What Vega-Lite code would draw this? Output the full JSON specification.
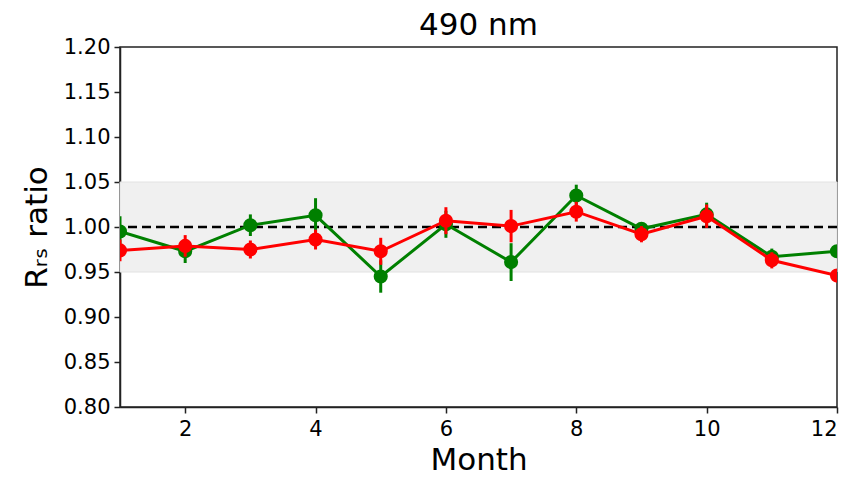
{
  "$schema": "https://vega.github.io/schema/vega-lite/v6.json",
  "autosize": "none",
  "width": 717,
  "height": 360,
  "padding": {"left": 120, "top": 47, "right": 16, "bottom": 71},
  "background": "white",
  "config": {
    "font": "DejaVu Sans",
    "view": {"stroke": "#222222", "strokeWidth": 1.5},
    "axis": {
      "labelFont": "DejaVu Sans",
      "titleFont": "DejaVu Sans",
      "labelFontSize": 21,
      "titleFontSize": 31,
      "titleFontWeight": "normal",
      "labelColor": "black",
      "titleColor": "black",
      "domainColor": "#222222",
      "domainWidth": 1.5,
      "tickColor": "#222222",
      "tickWidth": 1.5,
      "tickSize": 6,
      "grid": false
    },
    "title": {"font": "DejaVu Sans", "fontSize": 31, "fontWeight": "normal", "color": "black", "offset": -6}
  },
  "title": "490 nm",
  "datasets": {
    "ratios": [
      {"month": 1, "series": "A", "value": 0.995, "err": 0.017},
      {"month": 2, "series": "A", "value": 0.973, "err": 0.013},
      {"month": 3, "series": "A", "value": 1.002, "err": 0.012},
      {"month": 4, "series": "A", "value": 1.013, "err": 0.019},
      {"month": 5, "series": "A", "value": 0.945, "err": 0.018},
      {"month": 6, "series": "A", "value": 1.003, "err": 0.015},
      {"month": 7, "series": "A", "value": 0.961, "err": 0.021},
      {"month": 8, "series": "A", "value": 1.035, "err": 0.012},
      {"month": 9, "series": "A", "value": 0.998, "err": 0.007},
      {"month": 10, "series": "A", "value": 1.014, "err": 0.013},
      {"month": 11, "series": "A", "value": 0.967, "err": 0.009},
      {"month": 12, "series": "A", "value": 0.973, "err": 0.006},
      {"month": 1, "series": "B", "value": 0.974, "err": 0.012},
      {"month": 2, "series": "B", "value": 0.979, "err": 0.012},
      {"month": 3, "series": "B", "value": 0.975, "err": 0.010},
      {"month": 4, "series": "B", "value": 0.986, "err": 0.011},
      {"month": 5, "series": "B", "value": 0.973, "err": 0.015},
      {"month": 6, "series": "B", "value": 1.007, "err": 0.015},
      {"month": 7, "series": "B", "value": 1.001, "err": 0.018},
      {"month": 8, "series": "B", "value": 1.017, "err": 0.011},
      {"month": 9, "series": "B", "value": 0.992, "err": 0.009},
      {"month": 10, "series": "B", "value": 1.012, "err": 0.013},
      {"month": 11, "series": "B", "value": 0.963, "err": 0.009},
      {"month": 12, "series": "B", "value": 0.946, "err": 0.006}
    ],
    "band": [{"lo": 0.95, "hi": 1.05}],
    "ref": [{"y": 1.0}]
  },
  "encoding": {
    "x": {
      "field": "month", "type": "quantitative",
      "scale": {"domain": [1, 12], "nice": false},
      "axis": {"values": [2, 4, 6, 8, 10, 12], "title": "Month", "labelPadding": 5, "titlePadding": 6}
    }
  },
  "layer": [
    {
      "data": {"name": "band"},
      "mark": {"type": "rect", "color": "#f0f0f0", "stroke": "#e2e2e2", "strokeWidth": 1},
      "encoding": {
        "x": null,
        "y": {
          "field": "lo", "type": "quantitative",
          "scale": {"domain": [0.8, 1.2], "nice": false},
          "axis": {"title": "Rᵣₛ ratio", "format": ".2f", "values": [0.8, 0.85, 0.9, 0.95, 1.0, 1.05, 1.1, 1.15, 1.2], "titlePadding": 10, "labelPadding": 4}
        },
        "y2": {"field": "hi"}
      }
    },
    {
      "data": {"name": "ref"},
      "mark": {"type": "rule", "color": "black", "strokeWidth": 2.5, "strokeDash": [9, 5]},
      "encoding": {"x": null, "y": {"field": "y", "type": "quantitative", "title": "Rᵣₛ ratio"}}
    },
    {
      "data": {"name": "ratios"},
      "transform": [{"filter": "datum.series === 'A'"}],
      "layer": [
        {
          "mark": {"type": "errorbar", "color": "#008000", "thickness": 3, "clip": true},
          "encoding": {"y": {"field": "value", "type": "quantitative", "title": "Rᵣₛ ratio"}, "yError": {"field": "err"}}
        },
        {
          "mark": {"type": "line", "color": "#008000", "strokeWidth": 3, "clip": true},
          "encoding": {"y": {"field": "value", "type": "quantitative", "title": "Rᵣₛ ratio"}}
        },
        {
          "mark": {"type": "point", "filled": true, "opacity": 1, "color": "#008000", "size": 200, "clip": true},
          "encoding": {"y": {"field": "value", "type": "quantitative", "title": "Rᵣₛ ratio"}}
        }
      ]
    },
    {
      "data": {"name": "ratios"},
      "transform": [{"filter": "datum.series === 'B'"}],
      "layer": [
        {
          "mark": {"type": "errorbar", "color": "#ff0000", "thickness": 3, "clip": true},
          "encoding": {"y": {"field": "value", "type": "quantitative", "title": "Rᵣₛ ratio"}, "yError": {"field": "err"}}
        },
        {
          "mark": {"type": "line", "color": "#ff0000", "strokeWidth": 3, "clip": true},
          "encoding": {"y": {"field": "value", "type": "quantitative", "title": "Rᵣₛ ratio"}}
        },
        {
          "mark": {"type": "point", "filled": true, "opacity": 1, "color": "#ff0000", "size": 200, "clip": true},
          "encoding": {"y": {"field": "value", "type": "quantitative", "title": "Rᵣₛ ratio"}}
        }
      ]
    }
  ],
  "resolve": {"scale": {"y": "shared"}}
}
